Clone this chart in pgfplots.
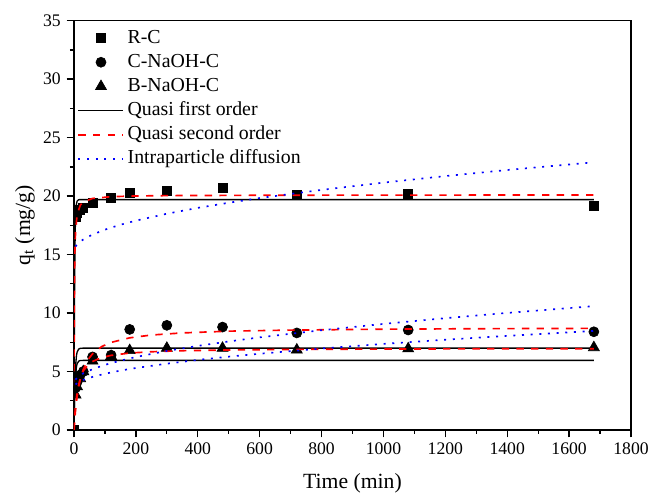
\documentclass[border=0pt]{standalone}
\usepackage{fontspec}
\setmainfont{Liberation Serif}
\usepackage{pgfplots}
\pgfplotsset{compat=1.18}

\begin{document}
\begin{tikzpicture}
\path[use as bounding box] (-44.4pt,-37.8pt) rectangle (346.2pt,258pt);
\begin{axis}[
    at={(0,0)}, anchor=south west,
    scale only axis,
    width=334.2pt, height=245.6pt,
    xmin=0, xmax=1800, ymin=0, ymax=35,
    xtick distance=200, ytick distance=5,
    minor x tick num=1, minor y tick num=1,
    tick align=outside,
    xtick pos=bottom, ytick pos=left,
    major tick length=4.4pt, minor tick length=2.4pt,
    axis line style={line width=0.8pt},
    every tick/.style={black, line width=0.8pt},
    /pgf/number format/assume math mode=true,
    /pgf/number format/1000 sep={},
    xlabel={Time (min)},
    ylabel={q\textsubscript{t} (mg/g)},
    every axis x label/.style={at={(axis description cs:0.5,-0.1295)}, anchor=center},
    every axis y label/.style={at={(axis description cs:-0.088,0.5)}, rotate=90, anchor=center},
    xlabel style={font=\fontsize{13}{15}\selectfont},
    ylabel style={font=\fontsize{13}{15}\selectfont},
    xticklabel style={font=\fontsize{10.6}{13}\selectfont},
    yticklabel style={font=\fontsize{10.6}{13}\selectfont},
    clip marker paths=true,
    legend cell align=left,
    legend style={draw=none, fill=none, at={(axis description cs:0,1)}, anchor=north west,
        xshift=-1pt, yshift=-1pt, row sep=0pt,
        font=\fontsize{11.9}{13}\selectfont,
        nodes={text height=8.6pt, text depth=2.5pt, inner ysep=1.7pt}},
    legend image code/.code={\draw[mark repeat=2, mark phase=2, #1] plot coordinates {(0pt,0pt) (13.5pt,0pt) (27pt,0pt)};},
]
% measured points
\addplot[only marks, mark=square*, mark size=2.7pt, black] coordinates {
    (0,0) (5,18.2) (10,18.6) (20,18.8) (30,19.0) (60,19.4) (120,19.85) (180,20.3)
    (300,20.45) (480,20.7) (720,20.1) (1080,20.2) (1680,19.2)
};
\addlegendentry{R-C}
\addplot[only marks, mark=*, mark size=3pt, black] coordinates {
    (0,0) (5,3.6) (10,4.1) (20,4.7) (30,5.0) (60,6.25) (120,6.4) (180,8.6)
    (300,8.95) (480,8.8) (720,8.3) (1080,8.55) (1680,8.4)
};
\addlegendentry{C-NaOH-C}
\addplot[only marks, mark=triangle*, mark size=3.8pt, black] coordinates {
    (0,0) (5,3.0) (10,3.7) (20,4.4) (30,5.0) (60,5.9) (120,6.3) (180,6.8)
    (300,7.0) (480,7.0) (720,6.85) (1080,6.95) (1680,7.05)
};
\addlegendentry{B-NaOH-C}

% quasi first order
\addplot[black, line width=0.8pt] coordinates {
    (0,0) (1,7.75) (2,12.45) (3,15.30) (4,17.03) (5,18.08) (6,18.72) (8,19.34)
    (10,19.57) (15,19.69) (20,19.7) (1680,19.7)
};
\addlegendentry{Quasi first order}
% quasi second order
\addplot[red, line width=1pt, dash pattern=on 4.4pt off 4.4pt] coordinates {
    (0,0) (0.5,7.05) (1,10.44) (2,13.75) (3,15.36) (5,16.96) (10,18.40) (20,19.21)
    (30,19.50) (60,19.80) (120,19.95) (200,20.01) (300,20.04) (500,20.06)
    (800,20.08) (1200,20.085) (1680,20.09)
};
\addlegendentry{Quasi second order}
% intraparticle diffusion
\addplot[blue, line width=1pt, dash pattern=on 1.2pt off 4pt] coordinates {
    (5,15.69) (10,15.86) (20,16.10) (30,16.29) (60,16.71) (100,17.13) (150,17.55)
    (200,17.90) (300,18.49) (400,18.99) (500,19.43) (600,19.83) (800,20.53)
    (1000,21.15) (1200,21.71) (1400,22.23) (1680,22.89)
};
\addlegendentry{Intraparticle diffusion}

\addplot[black, line width=0.8pt, forget plot] coordinates {
    (0,0) (1,1.81) (2,3.16) (3,4.15) (5,5.44) (8,6.37) (10,6.65) (15,6.92)
    (20,6.98) (30,7.0) (1680,7.0)
};
\addplot[black, line width=0.8pt, forget plot] coordinates {
    (0,0) (1,1.54) (2,2.68) (3,3.53) (5,4.62) (8,5.41) (10,5.65) (15,5.88)
    (20,5.94) (30,5.95) (1680,5.95)
};
\addplot[red, line width=1pt, dash pattern=on 4.4pt off 4.4pt, forget plot] coordinates {
    (0,0) (2,0.77) (5,1.70) (10,2.84) (20,4.30) (30,5.18) (45,6.00) (60,6.52)
    (90,7.14) (120,7.49) (180,7.88) (250,8.12) (350,8.30) (500,8.45)
    (700,8.54) (1000,8.62) (1300,8.66) (1680,8.69)
};
\addplot[red, line width=1pt, dash pattern=on 4.4pt off 4.4pt, forget plot] coordinates {
    (0,0) (2,1.03) (5,2.11) (10,3.24) (20,4.43) (30,5.05) (45,5.56) (60,5.86)
    (90,6.20) (120,6.38) (180,6.58) (250,6.69) (350,6.78) (500,6.84)
    (700,6.89) (1000,6.92) (1300,6.94) (1680,6.95)
};
\addplot[blue, line width=1pt, dash pattern=on 1.2pt off 4pt, forget plot] coordinates {
    (5,4.31) (10,4.46) (20,4.67) (30,4.84) (60,5.20) (100,5.57) (150,5.93)
    (200,6.24) (300,6.76) (400,7.19) (500,7.57) (600,7.92) (800,8.53)
    (1000,9.07) (1200,9.56) (1400,10.01) (1680,10.59)
};
\addplot[blue, line width=1pt, dash pattern=on 1.2pt off 4pt, forget plot] coordinates {
    (5,3.89) (10,4.00) (20,4.16) (30,4.28) (60,4.54) (100,4.81) (150,5.08)
    (200,5.30) (300,5.67) (400,5.99) (500,6.27) (600,6.52) (800,6.97)
    (1000,7.36) (1200,7.72) (1400,8.05) (1680,8.47)
};
\end{axis}
\end{tikzpicture}
\end{document}
